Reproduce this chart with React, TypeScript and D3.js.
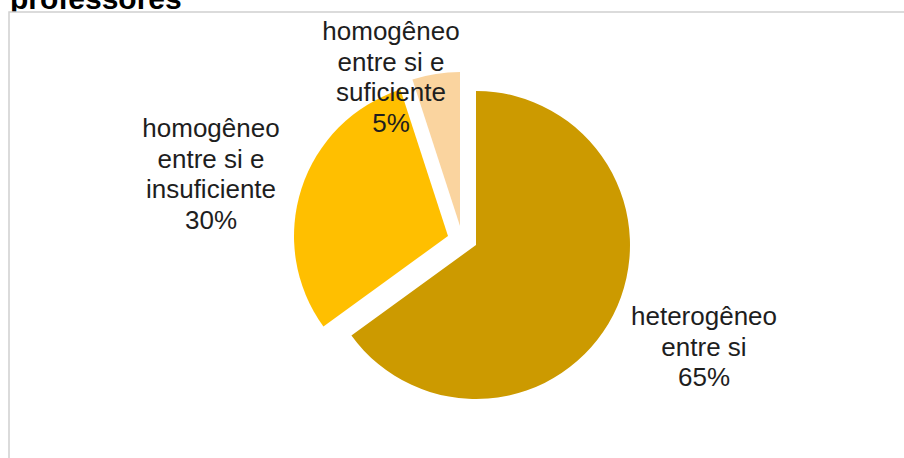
import React from "react";
import * as d3 from "d3";

const categories = [
  ["heterogêneo", "entre si"],
  ["homogêneo", "entre si e", "insuficiente"],
  ["homogêneo", "entre si e", "suficiente"],
];
const values = [65, 30, 5];
const percentLabels = ["65%", "30%", "5%"];
const title = "professores";

const colors = ["#CC9A00", "#FFBF00", "#FAD49F"];
// per-slice explosion offsets (layout only)
const offsets: [number, number][] = [
  [0, 0],
  [-28, -9],
  [-16, -19],
];
// label anchor (center x, first baseline y)
const labelPos: [number, number][] = [
  [704, 325],
  [211, 137],
  [391, 40],
];

const W = 904;
const H = 458;
const CX = 476;
const CY = 245;
const R = 154;
const LINE = 30.5;

export default function App() {
  const pie = d3
    .pie<number>()
    .sort(null)
    .startAngle(0)
    .endAngle(2 * Math.PI)
    .value((d) => d);
  const arcs = pie(values);
  const arc = d3.arc<d3.PieArcDatum<number>>().innerRadius(0).outerRadius(R);

  return (
    <svg
      width={W}
      height={H}
      style={{ position: "absolute", left: 0, top: 0, background: "#fff" }}
      fontFamily="'Liberation Sans', Arial, sans-serif"
    >
      <rect x={0} y={0} width={W} height={H} fill="#fff" />
      <text x={10} y={9} fontSize={30} fontWeight="bold" fill="#000">
        {title}
      </text>
      <rect
        x={9}
        y={12}
        width={W + 20}
        height={H + 20}
        fill="#fff"
        stroke="#d0d0d0"
        strokeWidth={1.5}
      />
      {arcs.map((a, i) => (
        <path
          key={i}
          d={arc(a) || ""}
          fill={colors[i]}
          transform={`translate(${CX + offsets[i][0]},${CY + offsets[i][1]})`}
        />
      ))}
      {categories.map((lines, i) => (
        <text
          key={i}
          textAnchor="middle"
          fontSize={26}
          fill="#1e1e1e"
        >
          {[...lines, percentLabels[i]].map((l, j) => (
            <tspan key={j} x={labelPos[i][0]} y={labelPos[i][1] + j * LINE}>
              {l}
            </tspan>
          ))}
        </text>
      ))}
    </svg>
  );
}
